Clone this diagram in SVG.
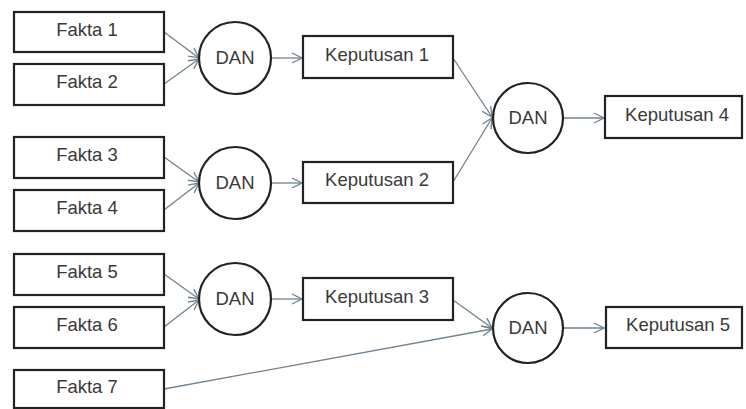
<svg xmlns="http://www.w3.org/2000/svg" width="746" height="409" viewBox="0 0 746 409">
<defs>
<style>
.box{fill:#fff;stroke:#222;stroke-width:2.2}
.c{fill:#fff;stroke:#222;stroke-width:2.2}
.t{font-family:"Liberation Sans",Arial,sans-serif;font-size:18.5px;fill:#3a3a3a;text-anchor:middle}
.e{fill:none;stroke:#6f8290;stroke-width:1.3;marker-end:url(#a)}
</style>
<marker id="a" viewBox="0 0 12 12" refX="11" refY="6" markerWidth="12" markerHeight="12" markerUnits="userSpaceOnUse" orient="auto">
<path d="M1,1 L11,6 L1,11" fill="none" stroke="#6f8290" stroke-width="1.3"/>
</marker>
</defs>
<rect width="746" height="409" fill="#fff"/>
<g id="connectors">
<line class="e" x1="164" y1="32" x2="199" y2="58"/>
<line class="e" x1="164" y1="84" x2="199" y2="59"/>
<line class="e" x1="164" y1="157" x2="199" y2="182"/>
<line class="e" x1="164" y1="210" x2="199" y2="183"/>
<line class="e" x1="164" y1="274" x2="199" y2="299"/>
<line class="e" x1="164" y1="327" x2="199" y2="300"/>
<line class="e" x1="271" y1="58" x2="302" y2="58"/>
<line class="e" x1="271" y1="183" x2="302" y2="183"/>
<line class="e" x1="271" y1="299" x2="302" y2="299"/>
<line class="e" x1="453" y1="58" x2="492" y2="117"/>
<line class="e" x1="453" y1="182" x2="492" y2="118"/>
<line class="e" x1="563" y1="118" x2="604" y2="118"/>
<line class="e" x1="453" y1="300" x2="492" y2="328"/>
<line class="e" x1="164" y1="389" x2="492" y2="329"/>
<line class="e" x1="563" y1="328" x2="604" y2="328"/>
</g>
<g id="fakta1"><rect class="box" x="14" y="12" width="150" height="40"/><text class="t" x="87" y="36">Fakta 1</text></g>
<g id="fakta2"><rect class="box" x="14" y="64" width="150" height="41"/><text class="t" x="87" y="88">Fakta 2</text></g>
<g id="fakta3"><rect class="box" x="14" y="137" width="150" height="41"/><text class="t" x="87" y="161">Fakta 3</text></g>
<g id="fakta4"><rect class="box" x="14" y="190" width="150" height="41"/><text class="t" x="87" y="214">Fakta 4</text></g>
<g id="fakta5"><rect class="box" x="14" y="254" width="150" height="41"/><text class="t" x="87" y="278">Fakta 5</text></g>
<g id="fakta6"><rect class="box" x="14" y="307" width="150" height="41"/><text class="t" x="87" y="331">Fakta 6</text></g>
<g id="fakta7"><rect class="box" x="14" y="370" width="150" height="38"/><text class="t" x="87" y="393">Fakta 7</text></g>
<g id="dan1"><circle class="c" cx="235" cy="58" r="36"/><text class="t" x="235" y="64">DAN</text></g>
<g id="dan2"><circle class="c" cx="235" cy="183" r="36"/><text class="t" x="235" y="189">DAN</text></g>
<g id="dan3"><circle class="c" cx="235" cy="299" r="36"/><text class="t" x="235" y="305">DAN</text></g>
<g id="dan4"><circle class="c" cx="528" cy="118" r="35"/><text class="t" x="528" y="124">DAN</text></g>
<g id="dan5"><circle class="c" cx="528" cy="328" r="35"/><text class="t" x="528" y="334">DAN</text></g>
<g id="keputusan1"><rect class="box" x="303" y="36" width="150" height="42"/><text class="t" x="377" y="61">Keputusan 1</text></g>
<g id="keputusan2"><rect class="box" x="303" y="162" width="150" height="41"/><text class="t" x="377" y="186">Keputusan 2</text></g>
<g id="keputusan3"><rect class="box" x="303" y="278" width="150" height="42"/><text class="t" x="377" y="303">Keputusan 3</text></g>
<g id="keputusan4"><rect class="box" x="605" y="96" width="137" height="42"/><text class="t" x="677" y="121">Keputusan 4</text></g>
<g id="keputusan5"><rect class="box" x="606" y="307" width="136" height="41"/><text class="t" x="678" y="331">Keputusan 5</text></g>
</svg>
